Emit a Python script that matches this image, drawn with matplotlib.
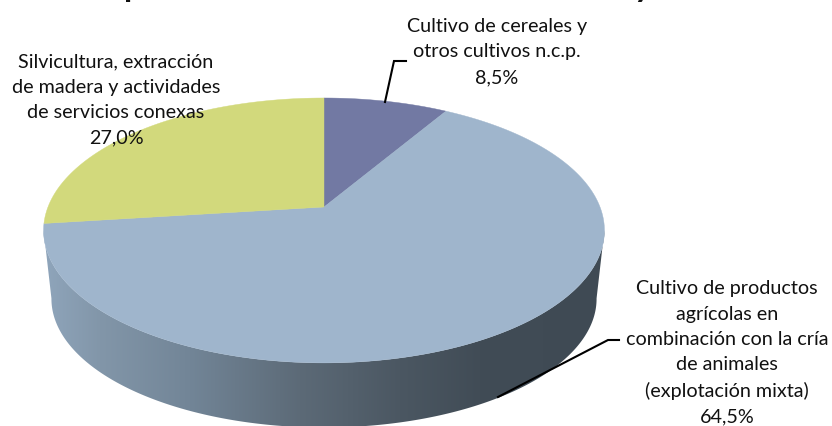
import numpy as np
import matplotlib
matplotlib.use("Agg")
import matplotlib.pyplot as plt
from matplotlib.patches import Polygon

# shares of the pie, clockwise from 12 o'clock
labels = ["Cultivo de cereales y\notros cultivos n.c.p.\n8,5%",
          "Cultivo de productos\nagrícolas en\ncombinación con la cría\nde animales\n(explotación mixta)\n64,5%",
          "Silvicultura, extracción\nde madera y actividades\nde servicios conexas\n27,0%"]
values = [8.5, 64.5, 27.0]
colors = ["#7279a3", "#9fb5cc", "#d2d97c"]

plt.rcParams['font.family'] = ['Lato', 'DejaVu Sans']

fig = plt.figure(figsize=(8.32, 4.27), dpi=100)
ax = fig.add_axes([0, 0, 1, 1])
ax.axis("off")

# perspective disc, the apex is not in the middle of the ellipse
cx, cy = 324.0, 208.0
R, H, k = 276.0, 128.3, 0.177

def project(theta, y0=cy, scale=1.0):
    u, v = np.sin(theta), np.cos(theta)
    d = 1 + k * v
    return cx + scale * R * u / d, y0 - scale * H * v / d

# side wall with gradient, clipped to the outline of the two rims
t = np.radians(np.linspace(100, 260, 300))
x1, y1 = project(t)
x2, y2 = project(t[::-1], y0=cy + 69, scale=0.972)
wall = Polygon(np.column_stack([np.r_[x1, x2], np.r_[y1, y2]]), closed=True, fc="none", ec="none")
ax.add_patch(wall)
grad_x = [44, 100, 190, 300, 400, 480, 605]
grad_r = [0x8f, 0x82, 0x72, 0x5c, 0x4b, 0x41, 0x3f]
grad_g = [0xa5, 0x96, 0x85, 0x6a, 0x57, 0x4c, 0x4a]
grad_b = [0xbb, 0xa9, 0x97, 0x77, 0x62, 0x56, 0x54]
xs = np.arange(40, 610)
rgb = np.stack([np.interp(xs, grad_x, c) for c in (grad_r, grad_g, grad_b)], axis=1)[None, :, :] / 255
im = ax.imshow(rgb, extent=[40, 610, 440, 200], aspect="auto", interpolation="bilinear", zorder=1)
im.set_clip_path(wall)
ax.set_xlim(0, 832)
ax.set_ylim(427, 0)

# top of the pie
start = 0.0
total = sum(values)
for val, col in zip(values, colors):
    end = start + val / total * 2 * np.pi
    a = np.linspace(start, end, 200)
    px, py = project(a)
    ax.add_patch(Polygon(np.column_stack([np.r_[cx, px], np.r_[cy, py]]), closed=True,
                         fc=col, ec=col, lw=0.3, zorder=2))
    start = end

# leader lines
ax.plot([385, 394, 406], [103, 62, 62], color="black", lw=1.5, zorder=3, solid_joinstyle="miter")
ax.plot([498, 608, 619], [398, 341, 341], color="black", lw=1.5, zorder=3, solid_joinstyle="miter")

# labels
fs = 14.2
ls = 1.6
ax.text(497, 52, labels[0], ha="center", va="center", fontsize=fs, color="#111111", linespacing=ls, zorder=4)
ax.text(727, 353, labels[1], ha="center", va="center", fontsize=fs, color="#111111", linespacing=ls, zorder=4)
ax.text(116, 100, labels[2], ha="center", va="center", fontsize=fs, color="#111111", linespacing=ls, zorder=4)

# title is cut off by the top edge, only descenders remain
ax.text(133, -3, "p", ha="center", va="baseline", fontsize=24, fontweight="bold", color="#111111", clip_on=True)
ax.text(643, -3, "y", ha="center", va="baseline", fontsize=24, fontweight="bold", color="#111111", clip_on=True)

fig.savefig("out.png", dpi=100)
